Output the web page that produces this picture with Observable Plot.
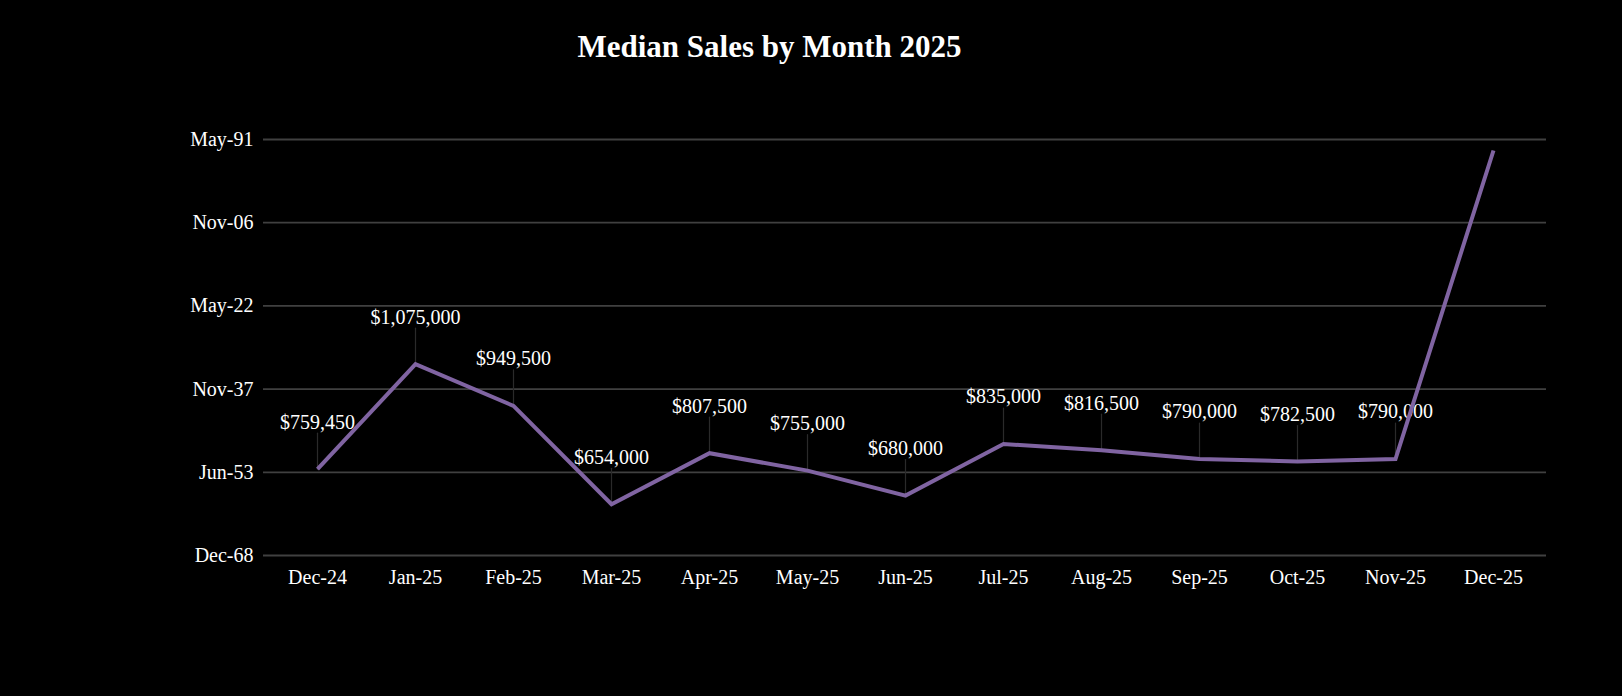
<!DOCTYPE html>
<html>
<head>
<meta charset="utf-8">
<script src="https://cdn.jsdelivr.net/npm/d3@7"></script>
<script src="https://cdn.jsdelivr.net/npm/@observablehq/plot@0.6"></script>
<style>
  html, body { margin: 0; padding: 0; background: #000; }
  #title {
    width: 1539px; height: 80px; box-sizing: border-box; padding-top: 30px;
    text-align: center; color: #fff; font-family: "Liberation Serif", serif;
    font-weight: bold; font-size: 31px; line-height: 33px;
  }
</style>
</head>
<body>
<div id="title">Median Sales by Month 2025</div>
<div id="chart"></div>
<script>
const months = ["Dec-24","Jan-25","Feb-25","Mar-25","Apr-25","May-25","Jun-25","Jul-25","Aug-25","Sep-25","Oct-25","Nov-25","Dec-25"];
const medianSales = [759450, 1075000, 949500, 654000, 807500, 755000, 680000, 835000, 816500, 790000, 782500, 790000, 1717000];
const showLabel = [true, true, true, true, true, true, true, true, true, true, true, true, false];
const yTickValues = [500000, 750000, 1000000, 1250000, 1500000, 1750000];
const yTickLabels = ["Dec-68", "Jun-53", "Nov-37", "May-22", "Nov-06", "May-91"];

const data = months.map((m, i) => ({month: m, value: medianSales[i], label: showLabel[i]}));
const labeled = data.filter(d => d.label);
const fmt = v => "$" + d3.format(",")(v);

const leader = {
  draw(context, l) {
    context.moveTo(0, 0);
    context.lineTo(0, -l);
  }
};

const plot = Plot.plot({
  width: 1622,
  height: 616,
  marginTop: 59,
  marginBottom: 141,
  marginLeft: 263,
  marginRight: 76,
  style: {background: "#000", color: "#fff", fontFamily: "Liberation Serif", fontSize: "20px"},
  x: {type: "point", domain: months, padding: 0.5, align: 0.5, label: null},
  y: {domain: [500000, 1750000], label: null},
  marks: [
    Plot.ruleY(yTickValues, {stroke: "#404040", strokeWidth: 1.8}),
    Plot.axisY({ticks: yTickValues, tickFormat: (d) => yTickLabels[yTickValues.indexOf(d)], tickSize: 0, tickPadding: 10, fill: "#fff", label: null, fontSize: 20}),
    Plot.axisX({tickSize: 0, tickPadding: 14, fill: "#fff", label: null, fontSize: 20}),
    Plot.vector(labeled, {x: "month", y: "value", length: 36, rotate: 0, anchor: "start", shape: leader, stroke: "#2a2a2a", strokeWidth: 1.2}),
    Plot.text(labeled, {x: "month", y: "value", text: d => fmt(d.value), dy: -47, fill: "#fff", fontSize: 20}),
    Plot.line(data, {x: "month", y: "value", stroke: "#8064a2", strokeWidth: 4, strokeLinejoin: "miter", strokeLinecap: "butt", strokeMiterlimit: 4})
  ]
});
document.getElementById("chart").appendChild(plot);
</script>
</body>
</html>
